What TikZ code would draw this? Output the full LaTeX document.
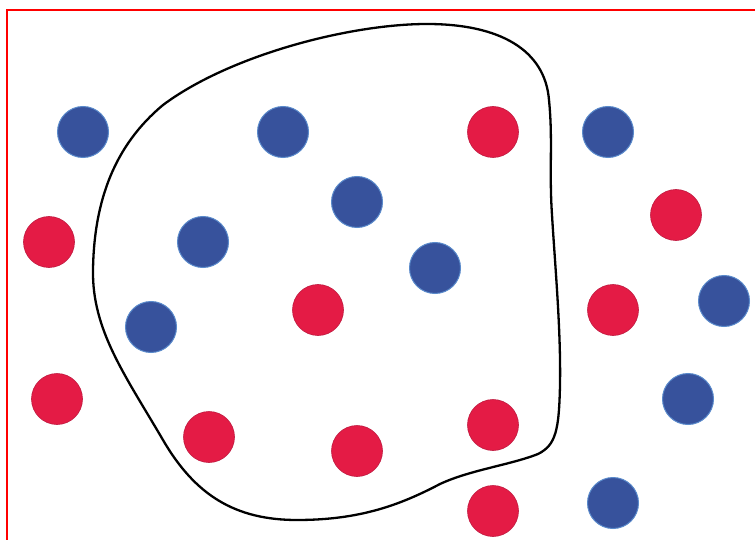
\documentclass[tikz,border=0pt]{standalone}
\begin{document}
\begin{tikzpicture}[x=1pt,y=-1pt,
  dotb/.style={circle,draw=bedge,line width=1pt,fill=bfill,minimum size=51pt,inner sep=0pt},
  dotr/.style={circle,draw=redge,line width=0.6pt,fill=rfill,minimum size=51pt,inner sep=0pt}]
\definecolor{bfill}{HTML}{37529C}
\definecolor{bedge}{HTML}{5A8ACB}
\definecolor{rfill}{HTML}{E41B45}
\definecolor{redge}{HTML}{C01A40}
\definecolor{frame}{HTML}{FF0000}
\useasboundingbox (0,0) rectangle (755,540);
\fill[white] (0,0) rectangle (755,540);
\draw[frame,line width=1.3pt] (7,541) -- (7,10) -- (756,10);
% blob
\draw[black,line width=2.3pt] (427,24)
  .. controls (500,24) and (545,50) .. (549,100)
  .. controls (553,140) and (549,170) .. (552,215)
  .. controls (555,265) and (561,330) .. (560,385)
  .. controls (559,430) and (556,445) .. (538,454)
  .. controls (510,465) and (470,470) .. (440,484)
  .. controls (400,505) and (360,520) .. (297,520)
  .. controls (235,520) and (195,495) .. (163,440)
  .. controls (125,375) and (92,330) .. (93,270)
  .. controls (94,200) and (115,145) .. (163,105)
  .. controls (230,55) and (350,24) .. cycle;
% blue
\node[dotb] (b1) at (83,132) {};
\node[dotb] (b2) at (283,132) {};
\node[dotb] (b3) at (608,132) {};
\node[dotb] (b4) at (357,202) {};
\node[dotb] (b5) at (203,242) {};
\node[dotb] (b6) at (435,268) {};
\node[dotb] (b7) at (151,327) {};
\node[dotb] (b8) at (724,301) {};
\node[dotb] (b9) at (688,399) {};
\node[dotb] (b10) at (613,503) {};
% red
\node[dotr] (r1) at (493,132) {};
\node[dotr] (r2) at (49,242) {};
\node[dotr] (r3) at (676,215) {};
\node[dotr] (r4) at (318,310) {};
\node[dotr] (r5) at (613,310) {};
\node[dotr] (r6) at (57,399) {};
\node[dotr] (r7) at (209,437) {};
\node[dotr] (r8) at (357,451) {};
\node[dotr] (r9) at (493,425) {};
\node[dotr] (r10) at (493,511) {};
\end{tikzpicture}
\end{document}
